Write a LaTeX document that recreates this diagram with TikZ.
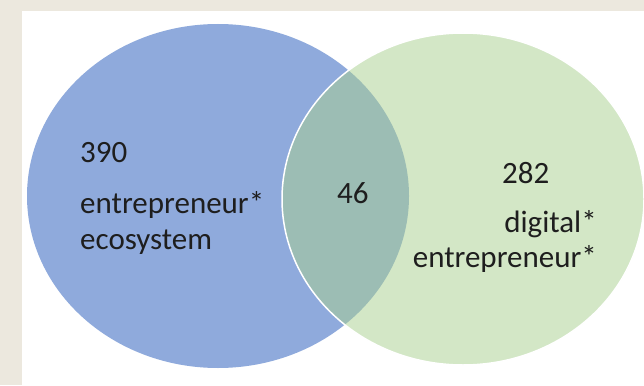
\documentclass[tikz,border=0pt]{standalone}
\usepackage{fontspec}
\setmainfont{Carlito}
\usetikzlibrary{shapes.geometric}
\definecolor{pagebeige}{HTML}{ECE8DE}
\definecolor{setblue}{HTML}{8FAADC}
\definecolor{setgreen}{HTML}{A9D08E}
\definecolor{labelink}{HTML}{1E1E1E}
\begin{document}
\begin{tikzpicture}[x=1pt,y=1pt,
  setshape/.style={ellipse, inner sep=0pt, outer sep=0pt},
  lbl/.style={anchor=base west, inner sep=0pt, text=labelink,
    font=\fontsize{31}{36}\selectfont},
  lblr/.style={lbl, anchor=base east}]
  % page and white panel
  \fill[pagebeige] (0,0) rectangle (644,-385);
  \fill[white] (22,-11) rectangle (644,-385);
  \useasboundingbox (0,0) rectangle (644,-385);
  % the two sets
  \node[setshape, fill=setblue, minimum width=382pt, minimum height=344pt]
    (ecosys) at (218,-196) {};
  \node[setshape, fill=setgreen, fill opacity=0.5, draw=white, draw opacity=1,
    line width=1.5pt, minimum width=362pt, minimum height=332pt]
    (digital) at (463,-199) {};
  % labels of the left set
  \node[lbl] (n390) at (80,-162) {390};
  \node[lbl] (entA) at (80,-213) {entrepreneur*};
  \node[lbl] (eco) at (80,-249) {ecosystem};
  % overlap count
  \node[lbl] (n46) at (337,-203) {46};
  % labels of the right set
  \node[lbl] (n282) at (502,-183) {282};
  \node[lblr] (dig) at (597,-232) {digital*};
  \node[lblr] (entB) at (597,-267) {entrepreneur*};
\end{tikzpicture}
\end{document}
